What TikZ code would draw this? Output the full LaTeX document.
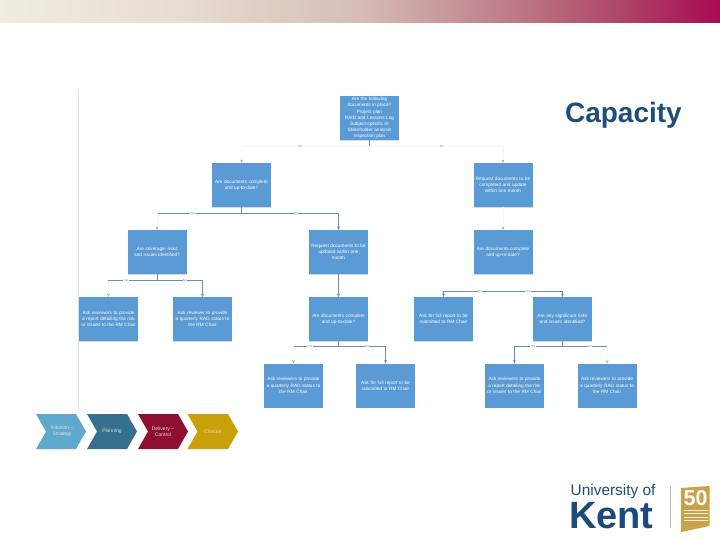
\documentclass[tikz,border=0pt]{standalone}
\usepackage{fontspec}
\setmainfont{Liberation Sans}
\usetikzlibrary{arrows.meta,shadows,calc}
\definecolor{boxblue}{HTML}{5B9BD5}
\definecolor{linkc}{HTML}{6F8EA6}
\definecolor{fadec}{HTML}{F5F7F9}
\definecolor{navy}{HTML}{1F4E79}
\definecolor{kentnavy}{HTML}{1D4A7C}
\definecolor{goldc}{HTML}{C9A24A}
\definecolor{chevA}{HTML}{5FA8CF}
\definecolor{chevB}{HTML}{35708F}
\definecolor{chevC}{HTML}{8F0F2E}
\definecolor{chevD}{HTML}{C9A009}
\pgfdeclarehorizontalshading{barshade}{100bp}{
  rgb(0bp)=(0.941,0.933,0.878);
  rgb(25bp)=(0.941,0.933,0.878);
  rgb(37.5bp)=(0.902,0.867,0.816);
  rgb(50bp)=(0.839,0.741,0.710);
  rgb(60bp)=(0.745,0.498,0.533);
  rgb(67.5bp)=(0.690,0.290,0.416);
  rgb(75bp)=(0.659,0.039,0.314);
  rgb(100bp)=(0.659,0.039,0.314)}
\tikzset{
  qbox/.style={fill=boxblue,text=white,minimum width=59pt,minimum height=44pt,inner sep=0pt,
    text width=59pt,align=center,font=\fontsize{4.7}{6.2}\selectfont,
    drop shadow={shadow xshift=0.4pt,shadow yshift=-0.8pt,opacity=.3,fill=gray}},
  seen/.style={draw=linkc,line width=.6pt,-{Stealth[length=3.2pt,width=3pt]}},
  seenplain/.style={draw=linkc,line width=.6pt},
  ghost/.style={draw=fadec,line width=.6pt,-{Stealth[length=3.2pt,width=3pt,color=linkc!70]}},
  tag/.style={fill=white,inner sep=.4pt,text=linkc,font=\fontsize{3}{3}\selectfont},
  chev/.style={font=\fontsize{5}{6}\selectfont,text=white!88!black,align=center,inner sep=0pt},
}
\begin{document}
\begin{tikzpicture}[x=1pt,y=-1pt]
\useasboundingbox (0,0) rectangle (720,540);
\shade[shading=barshade] (0,0) rectangle (720,22.5);
\draw[black!12,line width=.5pt] (78,90) -- (78,410);

% question boxes
\node[qbox] (top) at (369.5,118) {Are the following\\documents in place?\\Project plan\\RAID and Lessons Log\\Subject-specific or\\Stakeholder analysis\\inspection plan};
\node[qbox] (a1) at (241.5,185) {Are documents complete\\and up-to-date?};
\node[qbox] (a2) at (503,185) {Request documents to be\\completed and update\\within one month};
\node[qbox] (b1) at (157,252) {Are coverage, risks\\and issues identified?};
\node[qbox] (b2) at (338.5,252) {Request documents to be\\updated within one\\month};
\node[qbox] (b3) at (503,252) {Are documents complete\\and up-to-date?};
\node[qbox] (c1) at (108.5,319) {Ask reviewers to provide\\a report detailing the risk\\or issues to the RM Chair};
\node[qbox] (c2) at (202.5,319) {Ask reviewer to provide\\a quarterly RAG status to\\the RM Chair};
\node[qbox] (c3) at (338.5,319) {Are documents complete\\and up-to-date?};
\node[qbox] (c4) at (443.5,319) {Ask for full report to be\\submitted to RM Chair};
\node[qbox] (c5) at (562.5,319) {Are any significant risks\\and issues identified?};
\node[qbox] (d1) at (293.5,385.5) {Ask reviewers to provide\\a quarterly RAG status to\\the RM Chair};
\node[qbox] (d2) at (385.5,385.5) {Ask for full report to be\\submitted to RM Chair};
\node[qbox] (d3) at (514.5,385.5) {Ask reviewers to provide\\a report detailing the risk\\or issues to the RM Chair};
\node[qbox] (d4) at (607,385.5) {Ask reviewers to provide\\a quarterly RAG status to\\the RM Chair};

% connectors: faint ones first
\draw[ghost] (top.south) -- ++(0,6) -| (a1.north);
\draw[ghost] (top.south) -- ++(0,6) -| (a2.north);
\draw[ghost] (a1.south) -- ++(0,6) -| (b1.north);
\draw[ghost] (a2.south) -- (b3.north);
\draw[ghost] (b1.south) -- ++(0,6) -| (c1.north);
\draw[ghost] (c3.south) -- ++(0,5) -| (d1.north);
\draw[ghost] (c5.south) -- ++(0,5) -| (d4.north);
% visible parts
\draw[seenplain] (top.south) -- ++(0,6);
\draw[seen] (a1.south) ++(-84,6) -- ++(181,0) -- (b2.north);
\draw[seen] (b2.south) -- (c3.north);
\draw[seen] (b1.south) ++(-49,6) -- ++(94.5,0) -- (c2.north);
\draw[seen] (b3.south) ++(0,17) -| (c4.north);
\draw[seen] (b3.south) ++(0,17) -| (c5.north);
\draw[seen] (c3.south) ++(-44.5,5) -- ++(91.5,0) -- (d2.north);
\draw[seen] (c5.south) ++(44.5,5) -- ++(-92.5,0) -- (d3.north);
\draw[seenplain] (c3.south) -- ++(0,5);
\draw[seenplain] (c5.south) -- ++(0,5);
\draw[seenplain] (a1.south) -- ++(0,6);
\draw[seenplain] (b1.south) -- ++(0,6);

% yes / no tags
\node[tag] (t1) at (300,146) {Yes};
\node[tag] (t2) at (442,146) {No};
\node[tag] (t3) at (193,213) {Yes};
\node[tag] (t4) at (296,213) {No};
\node[tag] (t5) at (126,280) {Yes};
\node[tag] (t6) at (185,280) {No};
\node[tag] (t7) at (480,291) {No};
\node[tag] (t8) at (528,291) {Yes};
\node[tag] (t9) at (310,346) {Yes};
\node[tag] (t10) at (367,346) {No};
\node[tag] (t11) at (533,346) {Yes};
\node[tag] (t12) at (590,346) {No};

% title
\node[anchor=base east,inner sep=0pt,text=navy,font=\fontsize{28}{28}\selectfont\bfseries] (title) at (682,123) {Capacity};

% chevrons
\fill[chevA] (36,414) -- (76,414) -- (86,431.5) -- (76,449) -- (36,449) -- (46,431.5) -- cycle;
\fill[chevB] (87,414) -- (127,414) -- (137,431.5) -- (127,449) -- (87,449) -- (97,431.5) -- cycle;
\fill[chevC] (138,414) -- (178,414) -- (188,431.5) -- (178,449) -- (138,449) -- (148,431.5) -- cycle;
\fill[chevD] (187.5,414) -- (228,414) -- (238,431.5) -- (228,449) -- (187.5,449) -- (197.5,431.5) -- cycle;
\node[chev] (s1) at (62,431.5) {Initiation –\\Strategy};
\node[chev] (s2) at (112,431.5) {Planning};
\node[chev] (s3) at (163,431.5) {Delivery –\\Control};
\node[chev] (s4) at (213,431.5) {Closure};

% logo
\node[anchor=base west,inner sep=0pt,text=kentnavy,font=\fontsize{15.4}{15.4}\selectfont] (uni) at (570.5,495.5) {University of};
\node[anchor=base west,inner sep=0pt,text=kentnavy,font=\fontsize{38}{38}\selectfont\bfseries] (kent) at (569,528) {Kent};
\draw[black!30,line width=.6pt] (670.5,486) -- (670.5,528);
\fill[goldc] (681,488) -- (709.5,486) -- (709.5,526) -- (681,532) -- cycle;
\node[inner sep=0pt,text=white,font=\fontsize{21.5}{21.5}\selectfont\bfseries] (fifty) at (695.5,498.5) {50};
\foreach \yy/\ww in {510/12,513.5/12,517/12,520.5/12}
  \draw[white!85!goldc,line width=.9pt] (695.5-\ww,\yy) -- (695.5+\ww,\yy);
\end{tikzpicture}
\end{document}
